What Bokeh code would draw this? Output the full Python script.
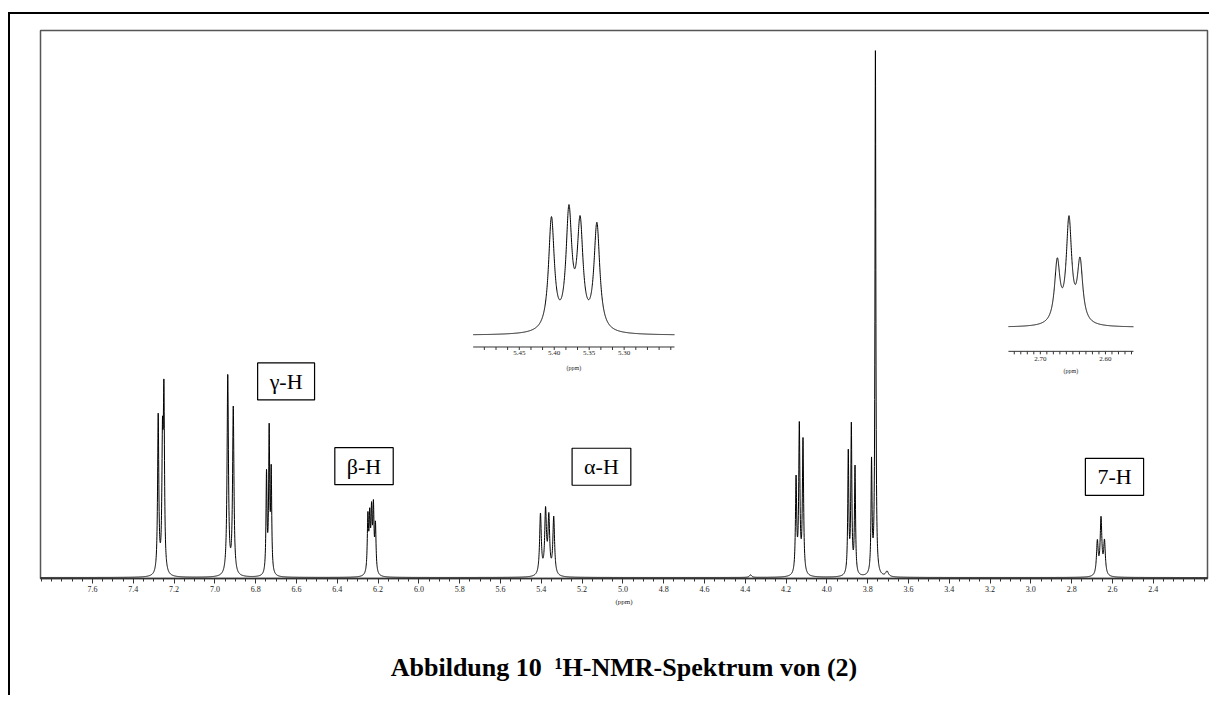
import numpy as np
from bokeh.plotting import figure
from bokeh.models import Range1d, FixedTicker, PrintfTickFormatter, Label, Title
from bokeh.core.properties import value
from bokeh.embed import file_html
from bokeh.resources import INLINE

# ---------------- data ----------------
# peak list: chemical shift (ppm), relative height (tallest = 100), half width (ppm)
peak_ppm = [7.278, 7.257, 7.250, 6.937, 6.910, 6.747, 6.734, 6.724,
            6.250, 6.241, 6.232, 6.223, 6.213,
            5.404, 5.379, 5.363, 5.339,
            4.374, 4.151, 4.135, 4.117,
            3.895, 3.880, 3.862, 3.781, 3.762, 3.705,
            2.674, 2.656, 2.639]
peak_height = [29.9, 22.9, 32.4, 37.7, 31.5, 18.7, 26.6, 18.8,
               10.5, 9.8, 10.8, 11.8, 8.8,
               11.5, 11.85, 10.6, 10.9,
               0.5, 17.8, 27.7, 25.2,
               23.0, 27.8, 20.2, 21.0, 99.7, 1.0,
               6.3, 10.6, 6.3]
peak_hwhm = [0.0035, 0.0035, 0.0035, 0.004, 0.004, 0.003, 0.003, 0.003,
             0.0035, 0.0035, 0.0035, 0.0035, 0.0035,
             0.005, 0.005, 0.005, 0.005,
             0.006, 0.0035, 0.0035, 0.0035,
             0.003, 0.003, 0.003, 0.003, 0.0025, 0.008,
             0.005, 0.005, 0.005]

major_ticks = [7.6, 7.4, 7.2, 7.0, 6.8, 6.6, 6.4, 6.2, 6.0, 5.8, 5.6, 5.4, 5.2,
               5.0, 4.8, 4.6, 4.4, 4.2, 4.0, 3.8, 3.6, 3.4, 3.2, 3.0, 2.8, 2.6, 2.4]

signal_labels = ["γ-H", "β-H", "α-H", "7-H"]
signal_label_ppm = [6.651, 6.269, 5.105, 2.590]
signal_label_y = [37.0, 21.0, 20.9, 19.0]

inset1_range = [5.516, 5.228]
inset1_ticklabels = [5.45, 5.40, 5.35, 5.30]
inset2_range = [2.749, 2.557]
inset2_ticklabels = [2.70, 2.60]

caption = "Abbildung 10\u00a0\u00a0\u00b9H-NMR-Spektrum von (2)"

# ---------------- helpers ----------------
P = np.array(peak_ppm)
H = np.array(peak_height)
W = np.array(peak_hwhm)


def spectrum(x):
    x = np.asarray(x)[:, None]
    return (H / (1.0 + ((x - P) / W) ** 2)).sum(axis=1)


X_LO, X_HI = 7.855, 2.134
PX = 5.3  # pixels per relative unit in the main plot

p = figure(width=1209, height=695, output_backend="svg", toolbar_location=None,
           x_range=Range1d(X_LO, X_HI), y_range=Range1d(-1 / PX, 547 / PX),
           y_axis_location=None,
           min_border_left=40, min_border_right=2, min_border_top=30, min_border_bottom=117,
           background_fill_color="white", border_fill_color="white", border_fill_alpha=0)
p.xgrid.grid_line_color = None
p.ygrid.grid_line_color = None
p.outline_line_color = "#555555"
p.outline_line_width = 1.5

# outer black frame lines (top and left) drawn as the element's background
p.styles = {
    "background-color": "white",
    "background-image": "linear-gradient(#000, #000), linear-gradient(#000, #000)",
    "background-size": "100% 2px, 2px 100%",
    "background-position": "8px 12px, 8px 12px",
    "background-repeat": "no-repeat",
}

minor = [round(7.85 - 0.05 * i, 2) for i in range(0, 115) if 7.85 - 0.05 * i > 2.13]
ax = p.xaxis[0]
ax.ticker = FixedTicker(ticks=major_ticks, minor_ticks=minor)
ax.formatter = PrintfTickFormatter(format="%.1f")
ax.major_label_text_font = "Liberation Serif"
ax.major_label_text_font_size = "8px"
ax.major_label_text_color = "#222222"
ax.major_label_standoff = 2
ax.axis_label = "(ppm)"
ax.axis_label_text_font = "Liberation Serif"
ax.axis_label_text_font_style = "normal"
ax.axis_label_text_font_size = "7px"
ax.axis_label_text_color = "#222222"
ax.axis_label_standoff = 3
ax.major_tick_in = 0
ax.major_tick_out = 5
ax.minor_tick_in = 0
ax.minor_tick_out = 3
ax.axis_line_color = "#333333"
ax.axis_line_width = 1.5
ax.major_tick_line_color = "#333333"
ax.minor_tick_line_color = "#333333"

# main spectrum
xs = np.linspace(X_LO, X_HI, 12000)
p.line(xs, spectrum(xs), line_color="black", line_width=1)

# signal labels in boxes
for t, x, y in zip(signal_labels, signal_label_ppm, signal_label_y):
    p.add_layout(Label(x=x, y=y, text=t, text_align="center", text_baseline="middle",
                       text_font="Liberation Serif", text_font_size="22px", text_color="black",
                       border_line_color="black", border_line_width=1.2,
                       background_fill_color="white", padding=(12, 6)))


# insets
def add_inset(src_range, tgt_range, base, peak_px, ticks, tick_labels, axis_off, lab_off, ppm_off, fmt):
    sub = p.subplot(x_source=Range1d(src_range[0], src_range[1]), y_source=Range1d(0, 100),
                    x_target=Range1d(tgt_range[0], tgt_range[1]),
                    y_target=Range1d(base, base + 100 / PX))
    gx = np.linspace(src_range[0], src_range[1], 1500)
    gy = spectrum(gx)
    sub.line(gx, gy / gy.max() * peak_px, line_color="black", line_width=1)
    sub.segment(x0=[src_range[0]], y0=[axis_off], x1=[src_range[1]], y1=[axis_off],
                line_color="#333333", line_width=1)
    sub.segment(x0=ticks, y0=[axis_off] * len(ticks), x1=ticks, y1=[axis_off - 3] * len(ticks),
                line_color="#333333", line_width=1)
    sub.text(x=tick_labels, y=[lab_off] * len(tick_labels), text=[fmt % v for v in tick_labels],
             text_font=value("Liberation Serif"), text_font_size="7px", text_color="#222222",
             text_align="center", text_baseline="middle")
    sub.text(x=[(src_range[0] + src_range[1]) / 2], y=[ppm_off], text=["(ppm)"],
             text_font=value("Liberation Serif"), text_font_size="6px", text_color="#222222",
             text_align="center", text_baseline="middle")


t1 = [round(5.45 - k * 0.05 / 3, 4) for k in range(-3, 14)]
add_inset(inset1_range, [5.734, 4.747], 45.7, 130.7, t1, inset1_ticklabels, -11.7, -17.7, -32.7, "%.2f")
t2 = [round(2.74 - k * 0.01, 3) for k in range(0, 19)]
add_inset(inset2_range, [3.110, 2.497], 47.2, 111.7, t2, inset2_ticklabels, -24.0, -32.0, -44.0, "%.2f")

# blank spacer between the axis and the caption, then the caption
p.add_layout(Title(text="\u00a0", text_font_size="10px", standoff=27), "below")
p.add_layout(Title(text=caption, align="center", text_font="Liberation Serif",
                   text_font_style="bold", text_font_size="26px", text_color="black",
                   standoff=4), "below")

open("out.html", "w").write(file_html(p, INLINE))
